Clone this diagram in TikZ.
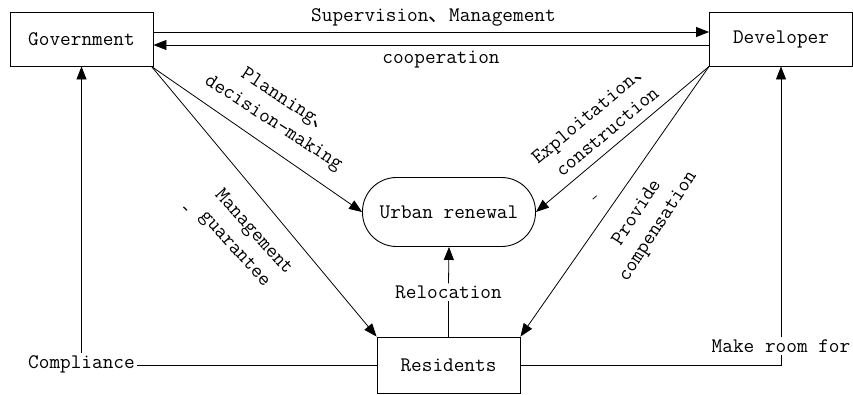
\documentclass[tikz,border=0pt]{standalone}
\usepackage{fontspec}
\newfontfamily\cjk{Noto Sans CJK SC}
\newcommand{\dun}{{\cjk 、}}
\usetikzlibrary{arrows.meta}
\begin{document}
\begin{tikzpicture}[x=1pt,y=-1pt,
  every node/.style={font=\ttfamily\fontsize{20.7}{25}\selectfont, inner sep=2pt},
  box/.style={draw, line width=0.9pt, minimum width=143pt, minimum height=54pt},
  pill/.style={draw, line width=0.9pt, rounded corners=34pt, minimum width=173pt, minimum height=69pt},
  conn/.style={line width=0.8pt},
  arr/.style={line width=0.8pt, -{Triangle[length=13pt,width=10pt]}},
  lbl/.style={align=center, inner sep=0pt}]
\useasboundingbox (0,0) rectangle (853,394);
\node[box] (gov) at (81.5,39) {Government};
\node[box] (dev) at (781,39) {Developer};
\node[pill] (urb) at (449,212) {Urban renewal};
\node[box, minimum height=56pt] (res) at (448.5,365) {Residents};
\node (sup) at (433.5,17) {Supervision\dun Management};
\node (coop) at (441,60) {cooperation};
\node (reloc) at (448.5,292) {Relocation};
\node[anchor=east] (comp) at (137,364) {Compliance};
\node (mrf) at (781,346) {Make room for};
\node[lbl, rotate=-33] (plan) at (280,113) {Planning\dun\\decision-making};
\node[lbl, rotate=-48] (mg) at (244,241) {Management\\guarantee};
\node[lbl, font=\fontsize{16}{18}\selectfont] (mgc) at (190,209) {\dun};
\node[lbl, rotate=40] (expl) at (599,122) {Exploitation\dun\\construction};
\node[lbl, rotate=57] (prov) at (648,220) {Provide\\compensation};
\node[lbl, rotate=40, font=\ttfamily\fontsize{14}{16}\selectfont] (pcd) at (596,199) {-};
\coordinate (g1) at ([xshift=-2pt]gov.south east);
\draw[arr] ([yshift=7pt]gov.east) -- ([yshift=7pt]dev.west);
\draw[arr] ([yshift=-6pt]dev.west) -- ([yshift=-6pt]gov.east);
\draw[arr] (g1) -- (urb.west);
\draw[arr] (g1) -- (res.north west);
\draw[arr] (dev.south west) -- (urb.east);
\draw[arr] (dev.south west) -- (res.north east);
\draw[conn] (res.north) -- (reloc.south);
\draw[arr] (reloc.north) -- (urb.south);
\draw[conn] (res.west) -- (res.west -| comp.east);
\draw[arr] (comp.north) -- (comp.north |- gov.south);
\draw[conn] (res.east) -| (mrf.south);
\draw[arr] (mrf.north) -- (mrf.north |- dev.south);
\end{tikzpicture}
\end{document}
